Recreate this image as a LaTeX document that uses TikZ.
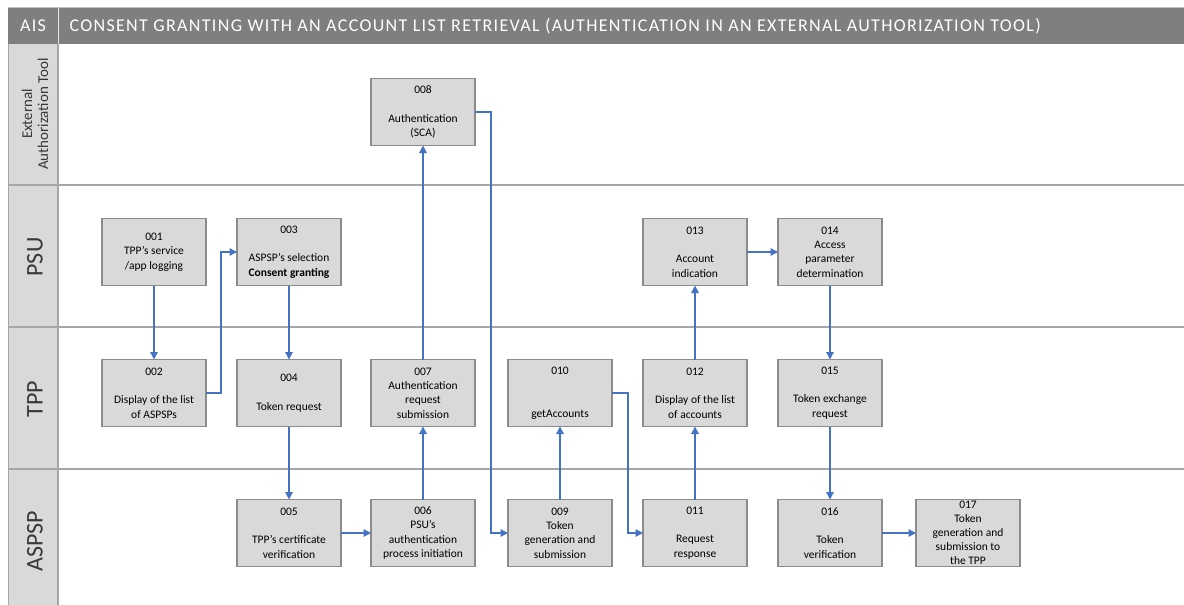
\documentclass[tikz,border=0pt]{standalone}
\usepackage{fontspec}
\setmainfont{Carlito}
\newfontfamily\hdrfont[LetterSpace=7.4]{Carlito}
\usetikzlibrary{arrows.meta}
\definecolor{hdr}{HTML}{7F7F7F}
\definecolor{lanefill}{HTML}{D9D9D9}
\definecolor{boxfill}{HTML}{D9D9D9}
\definecolor{boxline}{HTML}{8C8C8C}
\definecolor{laneline}{HTML}{A6A6A6}
\definecolor{flow}{HTML}{4472C4}
\definecolor{lanetext}{HTML}{383838}
\tikzset{
  stepbox/.style={draw=boxline, fill=boxfill, line width=1.1pt,
    minimum width=104pt, minimum height=67pt, inner sep=0pt, outer sep=0pt,
    align=center, font=\fontsize{11.5}{14.3}\selectfont, text=black},
  flowline/.style={draw=flow, line width=1.4pt,
    -{Triangle[length=7.5pt,width=7.5pt]}},
  lanelabel/.style={rotate=90, text=lanetext, align=center},
  sep/.style={draw=laneline, line width=1.3pt}
}
\begin{document}
\begin{tikzpicture}[x=1pt,y=-1pt]
\useasboundingbox (0,0) rectangle (1184,605);
\fill[white] (0,0) rectangle (1184,605);

% header bar
\fill[hdr] (8,7) rectangle (1184,44);
\draw[white!80!hdr, line width=1pt] (58,7) -- (58,44);
\draw[white!75!black, line width=1pt] (8,7) -- (1184,7);
\node[text=white, font=\hdrfont\fontsize{18}{20}\selectfont] (ais) at (33,26) {AIS};
\node[text=white, anchor=west, font=\hdrfont\fontsize{18}{20}\selectfont] (title) at (66,26)
  {CONSENT GRANTING WITH AN ACCOUNT LIST RETRIEVAL (AUTHENTICATION IN AN EXTERNAL AUTHORIZATION TOOL)};

% lane label column
\fill[lanefill] (8,44) rectangle (58,605);
\draw[laneline, line width=1.3pt] (58,44) -- (58,605);
\draw[laneline, line width=1pt] (8,44) -- (8,605);

% lane separators
\draw[sep] (8,185) -- (1184,185);
\draw[sep] (8,327) -- (1184,327);
\draw[sep] (8,469) -- (1184,469);

% lane names
\node[lanelabel, font=\fontsize{15}{16}\selectfont] (lext) at (35,114) {External\\Authorization Tool};
\node[lanelabel, font=\fontsize{24}{26}\selectfont] (lpsu) at (35,257) {PSU};
\node[lanelabel, font=\fontsize{24}{26}\selectfont] (ltpp) at (35,399) {TPP};
\node[lanelabel, font=\fontsize{24}{26}\selectfont] (laspsp) at (35,541) {ASPSP};

% process steps
\node[stepbox] (n008) at (423,112) {008\\[14.3pt]Authentication\\(SCA)};

\node[stepbox] (n001) at (154,252) {001\\TPP’s service\\/app logging};
\node[stepbox] (n003) at (289,252) {003\\[14.3pt]ASPSP’s selection\\\textbf{Consent granting}};
\node[stepbox] (n013) at (695,252) {013\\[14.3pt]Account\\indication};
\node[stepbox] (n014) at (830,252) {014\\Access\\parameter\\determination};

\node[stepbox] (n002) at (154,393) {002\\[14.3pt]Display of the list\\of ASPSPs};
\node[stepbox] (n004) at (289,393) {004\\[14.3pt]Token request};
\node[stepbox] (n007) at (423,393) {007\\Authentication\\request\\submission};
\node[stepbox] (n010) at (560,393) {010\\[28.6pt]getAccounts};
\node[stepbox] (n012) at (695,393) {012\\[14.3pt]Display of the list\\of accounts};
\node[stepbox] (n015) at (830,393) {015\\[14.3pt]Token exchange\\request};

\node[stepbox] (n005) at (289,533) {005\\[14.3pt]TPP’s certificate\\verification};
\node[stepbox] (n006) at (423,533) {006\\PSU’s\\authentication\\process initiation};
\node[stepbox] (n009) at (560,533) {009\\Token\\generation and\\submission};
\node[stepbox] (n011) at (695,533) {011\\[14.3pt]Request\\response};
\node[stepbox] (n016) at (830,533) {016\\[14.3pt]Token\\verification};
\node[stepbox, font=\fontsize{11.5}{14}\selectfont] (n017) at (968,533) {017\\Token\\generation and\\submission to\\the TPP};

% flow connectors
\draw[flowline] (n001.south) -- (n002.north);
\draw[flowline] (n002.east) -- ++(15,0) |- (n003.west);
\draw[flowline] (n003.south) -- (n004.north);
\draw[flowline] (n004.south) -- (n005.north);
\draw[flowline] (n005.east) -- (n006.west);
\draw[flowline] (n006.north) -- (n007.south);
\draw[flowline] (n007.north) -- (n008.south);
\draw[flowline] (n008.east) -- ++(16,0) |- (n009.west);
\draw[flowline] (n009.north) -- (n010.south);
\draw[flowline] (n010.east) -- ++(16,0) |- (n011.west);
\draw[flowline] (n011.north) -- (n012.south);
\draw[flowline] (n012.north) -- (n013.south);
\draw[flowline] (n013.east) -- (n014.west);
\draw[flowline] (n014.south) -- (n015.north);
\draw[flowline] (n015.south) -- (n016.north);
\draw[flowline] (n016.east) -- (n017.west);
\end{tikzpicture}
\end{document}
